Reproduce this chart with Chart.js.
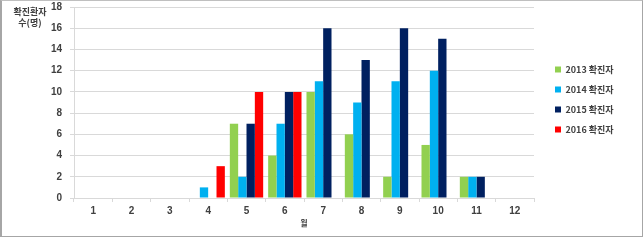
<!DOCTYPE html>
<html>
<head>
<meta charset="utf-8">
<script src="https://cdn.jsdelivr.net/npm/chart.js@4/dist/chart.umd.min.js"></script>
<style>
  html, body { margin: 0; padding: 0; background: #fff; }
  #wrap { position: relative; width: 643px; height: 241px; }
  #frame { position: absolute; left: 0; top: 0; width: 640px; height: 235px;
           border-left: 2px solid #a6a6a6; border-top: 1px solid #bfbfbf;
           border-right: 1px solid #a6a6a6; border-bottom: 1px solid #a6a6a6; pointer-events: none; }
  #ytitle { position: absolute; left: 8px; top: 6px; width: 44px; text-align: center;
            font: bold 9px "Noto Sans CJK KR", sans-serif; line-height: 11px; color: #404040; }
</style>
</head>
<body>
<div id="wrap">
  <canvas id="c" width="643" height="241"></canvas>
  <div id="ytitle">확진환자<br>수(명)</div>
  <div id="frame"></div>
</div>
<script>
const months = ['1','2','3','4','5','6','7','8','9','10','11','12'];
const s2013 = [0,0,0,0,7,4,10,6,2,5,2,0];
const s2014 = [0,0,0,1,2,7,11,9,11,12,2,0];
const s2015 = [0,0,0,0,7,10,16,13,16,15,2,0];
const s2016 = [0,0,0,3,10,10,0,0,0,0,0,0];
const seriesLabels = ['2013 확진자','2014 확진자','2015 확진자','2016 확진자'];
const colors = ['#92D050','#00B0F0','#002060','#FF0000'];
const xTitle = '월';

const tickFont = { family: '"Liberation Sans", Arial, sans-serif', size: 10, weight: 'bold' };
const legendFix = {
  id: 'legendFix',
  beforeLayout(chart) {
    const lg = chart.legend;
    if (lg && !lg._fixedFit) {
      const orig = lg.fit.bind(lg);
      lg.fit = function () { orig(); this.width = 109; };
      lg._fixedFit = true;
    }
  },
  afterLayout(chart) {
    const lg = chart.legend;
    if (lg) {
      const dx = (chart.chartArea.right + 10) - lg.left;
      lg.left += dx; lg.right += dx;
      const dy = -21;
      lg.top += dy; lg.bottom += dy;
    }
  }
};

new Chart(document.getElementById('c'), {
  type: 'bar',
  data: {
    labels: months,
    datasets: [s2013, s2014, s2015, s2016].map((d, i) => ({
      label: seriesLabels[i],
      data: d,
      backgroundColor: colors[i],
      barPercentage: 1.0,
      categoryPercentage: 0.87
    }))
  },
  options: {
    responsive: false,
    animation: false,
    layout: { padding: { left: 0, right: 0, top: 0, bottom: 0 } },
    plugins: {
      legend: {
        position: 'right',
        align: 'center',
        labels: {
          boxWidth: 6, boxHeight: 6, padding: 11,
          color: '#404040',
          font: { family: '"Noto Sans CJK KR", sans-serif', size: 9, weight: 'bold' }
        }
      },
      tooltip: { enabled: false }
    },
    scales: {
      x: {
        grid: { display: true, drawOnChartArea: false, offset: true, tickLength: 4, color: '#d9d9d9' },
        border: { color: '#d9d9d9' },
        ticks: { color: '#404040', font: tickFont, padding: 3, maxRotation: 0 },
        title: { display: true, text: xTitle, color: '#404040',
                 font: { family: '"Noto Sans CJK KR", sans-serif', size: 8, weight: 'bold' },
                 padding: { top: 0, bottom: 13 } },
        afterFit(s) { s.height = 43; }
      },
      y: {
        min: 0, max: 18,
        ticks: { stepSize: 2, color: '#404040', font: tickFont, padding: 8 },
        grid: { color: '#d9d9d9', tickLength: 4 },
        border: { color: '#d9d9d9' },
        afterFit(s) { s.width = 74; s.paddingTop = 7; s.paddingBottom = 0; }
      }
    }
  },
  plugins: [legendFix]
});
</script>
</body>
</html>
